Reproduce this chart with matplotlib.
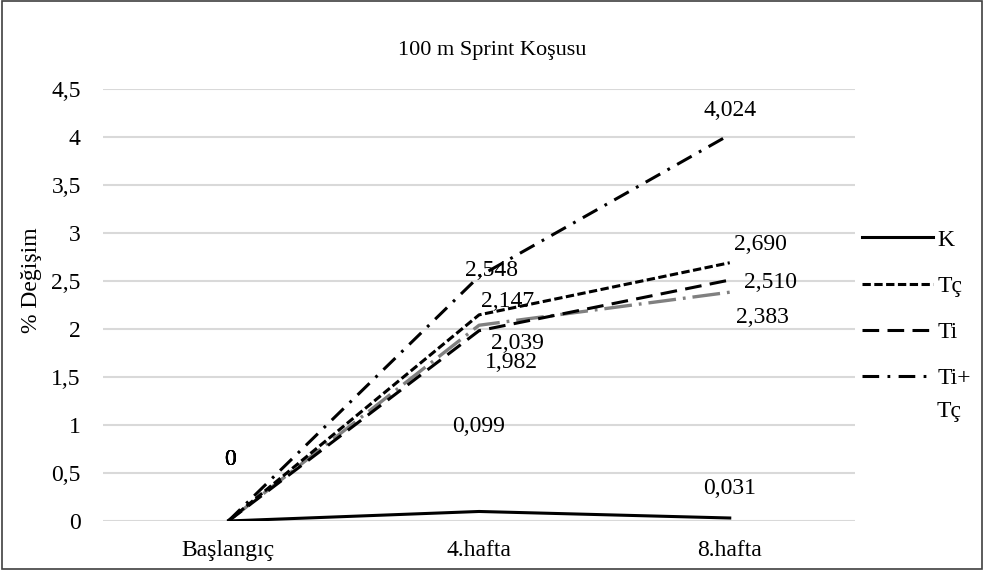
import matplotlib
matplotlib.use('Agg')
import matplotlib.pyplot as plt
from matplotlib.patches import Rectangle

plt.rcParams['font.family'] = ['Liberation Serif', 'DejaVu Serif']
plt.rcParams['lines.scale_dashes'] = False

categories = ['Başlangıç', '4.hafta', '8.hafta']
k = [0, 0.099, 0.031]
tc = [0, 2.147, 2.690]
ti = [0, 1.982, 2.510]
titc = [0, 2.548, 4.024]
gray = [0, 2.039, 2.383]
yticks = [0, 0.5, 1, 1.5, 2, 2.5, 3, 3.5, 4, 4.5]

fs = 17

figure = plt.figure(figsize=(9.84, 5.70), dpi=100)
axes = figure.add_axes([0.1047, 0.086, 0.7643, 0.7579])
x = list(range(len(categories)))

axes.plot(x, gray, color='#808080', lw=2.4, dashes=(20, 5, 2, 5))
axes.plot(x, titc, color='black', lw=2.2, dashes=(12, 6, 2, 6), label='Ti+')
axes.plot(x, ti, color='black', lw=2.2, dashes=(12, 6), label='Ti')
axes.plot(x, tc, color='black', lw=2.2, dashes=(6, 2.5), label='Tç')
axes.plot(x, k, color='black', lw=2.2, label='K')


def label(series, i, dx, dy, text=None):
    if text is None:
        text = ('%.3f' % series[i]).replace('.', ',')
    axes.annotate(text, (x[i], series[i]), xytext=(dx, dy),
                  textcoords='offset pixels', ha='center', va='center',
                  fontsize=fs)


for s in [k, tc, ti, titc, gray]:
    label(s, 0, 2, 61, '0')
label(k, 1, 0, 85)
label(k, 2, 0, 30)
label(tc, 1, 29, 13)
label(tc, 2, 31, 18)
label(ti, 1, 32, -32)
label(ti, 2, 41, -2)
label(titc, 1, 12, 6)
label(titc, 2, 0, 24)
label(gray, 1, 38, -18)
label(gray, 2, 33, -25)

axes.set_xlim(-0.5, 2.5)
axes.set_ylim(0, 4.5)
axes.set_yticks(yticks)
axes.set_yticklabels([('%g' % v).replace('.', ',') for v in yticks])
axes.set_xticks(x)
axes.set_xticklabels(categories)
axes.tick_params(length=0, labelsize=fs)
axes.tick_params(axis='x', pad=14)
axes.tick_params(axis='y', pad=16)
axes.grid(axis='y', color='#d9d9d9', lw=1.5)
axes.set_axisbelow(True)
for spine in axes.spines.values():
    spine.set_visible(False)
axes.set_ylabel('% Değişim', fontsize=fs)
axes.yaxis.set_label_coords(-0.081, 0.558)

figure.text(0.5, 1 - 50 / 570, '100 m Sprint Koşusu', ha='center',
            va='center', fontsize=16)

handles, labels = axes.get_legend_handles_labels()
order = [3, 2, 1, 0]
axes.legend([handles[i] for i in order], [labels[i] for i in order],
            loc='upper left', bbox_to_anchor=(862 / 984, 1 - 229 / 570),
            bbox_transform=figure.transFigure, frameon=False, fontsize=fs,
            handlelength=3.0, handletextpad=0.2, labelspacing=1.05,
            borderaxespad=0, borderpad=0)
figure.text(937 / 984, 1 - 411 / 570, 'Tç', ha='left', va='center',
            fontsize=fs)

figure.patches.append(Rectangle((0.002, 0.002), 0.996, 0.996,
                                transform=figure.transFigure, fill=False,
                                edgecolor='#404040', lw=1.2))

figure.savefig('out.png', dpi=100)
